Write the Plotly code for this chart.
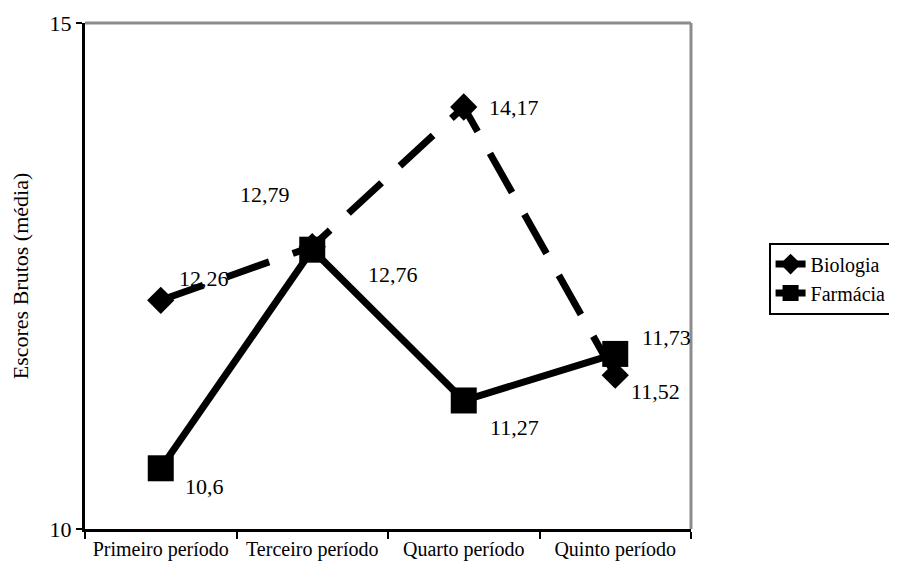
import plotly.graph_objects as go

categories = ["Primeiro período", "Terceiro período", "Quarto período", "Quinto período"]
biologia = [12.26, 12.79, 14.17, 11.52]
farmacia = [10.6, 12.76, 11.27, 11.73]
y_ticks = [10, 15]

# label offsets (pixels) per point
bio_shift = [(43, 22), (-47, 52), (50, 0), (40, -16)]
far_shift = [(44, -18), (81, -25), (51, -27), (51, 16)]

FONT = "Liberation Serif"

def fmt(v):
    s = ("%.2f" % v).rstrip("0").rstrip(".")
    return s.replace(".", ",")

fig = go.Figure()
fig.add_trace(go.Scatter(
    x=categories, y=biologia, name="Biologia", mode="lines+markers",
    line=dict(color="black", width=7, dash="45px,25px"),
    marker=dict(symbol="diamond", size=21, color="black"),
))
fig.add_trace(go.Scatter(
    x=categories, y=farmacia, name="Farmácia", mode="lines+markers",
    line=dict(color="black", width=7),
    marker=dict(symbol="square", size=26, color="black"),
))

for series, shifts in ((biologia, bio_shift), (farmacia, far_shift)):
    for c, v, (dx, dy) in zip(categories, series, shifts):
        fig.add_annotation(x=c, y=v, text=fmt(v), showarrow=False,
                           xshift=dx, yshift=dy,
                           font=dict(family=FONT, size=22, color="black"))

# top and right gray borders
fig.add_shape(type="line", xref="paper", yref="paper", x0=0, x1=1, y0=1, y1=1,
              line=dict(color="#8c8c8c", width=3))
fig.add_shape(type="line", xref="paper", yref="paper", x0=1, x1=1, y0=0, y1=1,
              line=dict(color="#8c8c8c", width=3))

fig.update_layout(
    width=897, height=572,
    margin=dict(l=77, r=203, t=15, b=51),
    paper_bgcolor="white", plot_bgcolor="white",
    font=dict(family=FONT, size=20, color="black"),
    showlegend=True,
    legend=dict(x=1.128, xanchor="left", y=0.566, yanchor="top",
                bordercolor="black", borderwidth=2, bgcolor="white",
                font=dict(family=FONT, size=20, color="black"),
                tracegroupgap=0),
    xaxis=dict(type="category", range=[-0.5, 3.5],
               showgrid=False, zeroline=False, automargin=False,
               showline=True, linecolor="black", linewidth=3,
               ticks="outside", tickson="boundaries", ticklen=7, tickwidth=2,
               tickcolor="black", tickfont=dict(family=FONT, size=20)),
    yaxis=dict(range=[10, 15], tickvals=y_ticks, ticktext=[str(t) for t in y_ticks],
               showgrid=False, zeroline=False, automargin=False,
               showline=True, linecolor="black", linewidth=3,
               ticks="outside", ticklen=6, tickwidth=2, tickcolor="black",
               tickfont=dict(family=FONT, size=22),
               title=dict(text="Escores Brutos (média)", standoff=19,
                          font=dict(family=FONT, size=22))),
)

fig.write_html("out.html")
